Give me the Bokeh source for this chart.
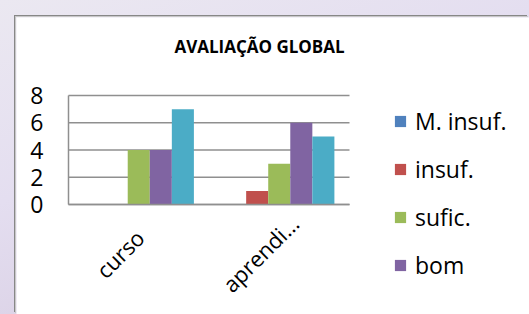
from bokeh.plotting import figure
from bokeh.models import Range1d, FixedTicker, Legend, LegendItem, Label
from bokeh.core.properties import value
from bokeh.layouts import column
from bokeh.embed import file_html
from bokeh.resources import INLINE
import math

# ---- data ----
categories = ["curso", "aprendi…"]
series_names = ["M. insuf.", "insuf.", "sufic.", "bom", "m. bom"]
m_insuf = [0, 0]
insuf = [0, 1]
sufic = [4, 3]
bom = [4, 6]
m_bom = [7, 5]
series_values = [m_insuf, insuf, sufic, bom, m_bom]
series_colors = ["#4F81BD", "#C0504D", "#9BBB59", "#8064A2", "#4BACC6"]
y_ticks = [0, 2, 4, 6, 8]
title_text = "AVALIAÇÃO GLOBAL"

FONT = "Open Sans"

# layout geometry (pixels)
FIG_W, FIG_H = 513, 297
AXIS_Y = 187                 # pixel row of value 0 from figure top
Y_PX = 109 / 8               # pixels per value unit
AXIS_X = 52                  # pixel column of the category-axis start
X_PX = 281 / len(categories) # pixels per category
y_end = AXIS_Y / Y_PX
y_start = -(FIG_H - AXIS_Y) / Y_PX
x_start = -AXIS_X / X_PX
x_end = (FIG_W - AXIS_X) / X_PX
n_cat = len(categories)

p = figure(x_range=Range1d(x_start, x_end), y_range=Range1d(y_start, y_end),
           width=FIG_W, height=FIG_H, output_backend="svg", toolbar_location=None,
           min_border_left=0, min_border_right=0, min_border_top=0,
           min_border_bottom=0,
           styles={"box-shadow": "-1px -1px 0 0 #c8c8c8, -2px -2px 0 0 #878787"})
p.border_fill_color = "white"
p.background_fill_color = "white"
p.outline_line_color = None
p.xgrid.visible = False
p.ygrid.visible = False

# horizontal gridlines across the category area only
p.segment(x0=[0] * len(y_ticks), x1=[n_cat] * len(y_ticks), y0=y_ticks, y1=y_ticks,
          line_color="#8f8f8f", line_width=1.5)

bw = 0.157
offsets = [(-2 + i) * bw for i in range(5)]
cat_pos = [i + 0.5 for i in range(n_cat)]
renderers = []
for name, vals, col, off in zip(series_names, series_values, series_colors, offsets):
    src = {"x": [c + off for c in cat_pos], "v": vals}
    r = p.vbar(x="x", top="v", width=bw, source=src, fill_color=col, line_color=None)
    renderers.append(r)

# axes
p.yaxis.fixed_location = 0
p.yaxis.ticker = FixedTicker(ticks=y_ticks)
p.yaxis.bounds = (0, 8)
p.yaxis.axis_line_color = "#8f8f8f"
p.yaxis.axis_line_width = 1.5
p.yaxis.major_tick_line_color = None
p.yaxis.minor_tick_line_color = None
p.yaxis.major_label_standoff = 19
p.yaxis.major_label_text_font = FONT
p.yaxis.major_label_text_font_size = "23px"
p.yaxis.major_label_text_color = "black"

p.xaxis.fixed_location = 0
p.xaxis.ticker = FixedTicker(ticks=[])
p.xaxis.bounds = (0, n_cat)
p.xaxis.axis_line_color = "#8f8f8f"
p.xaxis.axis_line_width = 1.5
p.xaxis.major_tick_line_color = None
p.xaxis.minor_tick_line_color = None

# rotated category labels, centred below each category (as the original places them)
p.text(x=cat_pos, y=[0] * n_cat, text=categories, angle=math.pi / 4,
       x_offset=-19, y_offset=49, text_align="center", text_baseline="middle",
       text_font=value(FONT), text_font_size="22px", text_color="black")

# title
title = Label(x=243, y=FIG_H - 29, x_units="screen", y_units="screen", text=title_text,
              text_font=FONT, text_font_size="17px", text_font_style="bold",
              text_align="center", text_baseline="middle", text_color="black")
p.add_layout(title)

# legend (only first four items visible in the reference)
items = [LegendItem(label=n, renderers=[r]) for n, r in zip(series_names[:4], renderers[:4])]
legend = Legend(items=items, location=(377, 33), orientation="vertical",
                glyph_width=14, glyph_height=14, label_standoff=8, spacing=16,
                padding=0, margin=0, border_line_color=None, background_fill_alpha=0,
                label_text_font=FONT, label_text_font_size="23px",
                label_text_color="black")
p.add_layout(legend)

root = column(p, styles={"background": "linear-gradient(160deg, #ebe8f1 0%, #e4def0 40%, #d2c6dc 100%)",
                         "padding": "17px 0px 0px 16px"})

open("out.html", "w").write(file_html(root, INLINE))
